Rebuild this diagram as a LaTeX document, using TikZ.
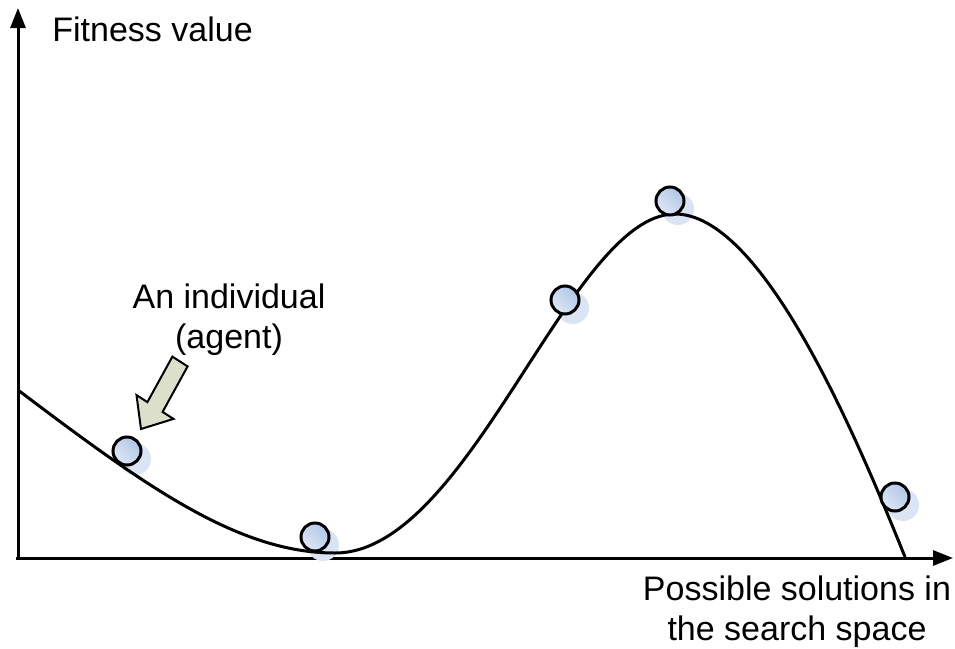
\documentclass[tikz,border=0pt]{standalone}
\usepackage{fontspec}
\setmainfont{Liberation Sans}
\usetikzlibrary{arrows.meta}
\definecolor{ballA}{RGB}{176,198,230}
\definecolor{ballB}{RGB}{222,231,245}
\definecolor{shadowc}{RGB}{218,228,244}
\definecolor{arrowfill}{RGB}{220,224,203}
\tikzset{
  axis/.style={line width=1.5pt,-{Triangle[length=10pt,width=7.5pt]}},
  ball/.style={circle,draw=black,line width=1.5pt,minimum size=14pt,inner sep=0pt,
    left color=ballA,right color=ballB,shading angle=-45},
  ballshadow/.style={circle,fill=shadowc,minimum size=16pt,inner sep=0pt,draw=none},
  lbl/.style={font=\fontsize{17}{20}\selectfont,align=center,inner sep=0pt},
}
\begin{document}
\begin{tikzpicture}[x=0.5pt,y=-0.5pt]
\useasboundingbox (0,0) rectangle (955,649);
% axes
\coordinate (O) at (18,558);
\coordinate (Ytip) at (18,8);
\coordinate (Xtip) at (953,558);
\draw[axis] (18,560) -- (Ytip);
\draw[axis] (16,558) -- (Xtip);
% shadows
\foreach \x/\y in {127/451,315/537,565/300,670/201,895/497}
  \node[ballshadow] at (\x+8,\y+8) {};
% curve
\draw[line width=1.5pt] (18,390) .. controls (150,490) and (240,553) .. (335,553)
  .. controls (470,553) and (570,214) .. (675,214)
  .. controls (760,214) and (850,420) .. (905,557);
% individuals
\node[ball] (c1) at (127,451) {};
\node[ball] (c2) at (315,537) {};
\node[ball] (c3) at (565,300) {};
\node[ball] (c4) at (670,201) {};
\node[ball] (c5) at (895,497) {};
% block arrow
\draw[line width=1pt,fill=arrowfill,line join=miter]
  (187.6,366.4) -- (162.6,411.9) -- (173.5,418.9) -- (141,429)
  -- (136.5,395.1) -- (147.4,402.1) -- (172.4,356.6) -- cycle;
% labels
\node[lbl,anchor=west] (ylab) at (52,29) {Fitness value};
\node[lbl] (ind) at (229,320) {An individual\\(agent)};
\node[lbl] (xlab) at (797,612) {Possible solutions in\\the search space};
\end{tikzpicture}
\end{document}
